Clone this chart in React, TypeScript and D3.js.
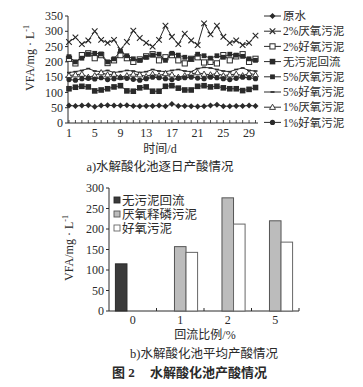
import React from 'react';
import * as d3 from 'd3';

// daily VFA, mg/L (panel a)
const days = [1, 2, 3, 4, 5, 6, 7, 8, 9, 10, 11, 12, 13, 14, 15, 16, 17, 18, 19, 20, 21, 22, 23, 24, 25, 26, 27, 28, 29, 30];
const rawWater = [57, 56, 57, 58, 53, 57, 58, 57, 57, 58, 56, 55, 56, 56, 57, 55, 62, 56, 56, 55, 54, 55, 57, 60, 55, 55, 56, 56, 57, 56];
const anaerobic2 = [265, 280, 258, 270, 300, 272, 262, 272, 240, 265, 302, 278, 262, 250, 272, 318, 282, 258, 292, 270, 255, 326, 290, 318, 282, 262, 270, 255, 262, 286];
const aerobic2 = [210, 195, 222, 228, 212, 222, 196, 205, 222, 212, 200, 208, 218, 225, 205, 215, 222, 205, 195, 210, 215, 198, 200, 195, 222, 205, 218, 225, 200, 210];
const noReturn = [112, 117, 120, 118, 105, 108, 112, 118, 122, 105, 104, 115, 118, 104, 104, 120, 122, 114, 108, 108, 120, 122, 118, 120, 115, 112, 112, 106, 110, 116];
const anaerobic5 = [217, 200, 212, 225, 228, 226, 200, 210, 235, 220, 210, 205, 215, 222, 225, 205, 228, 222, 215, 210, 225, 220, 212, 220, 215, 225, 222, 218, 210, 205];
const aerobic5 = [165, 168, 172, 178, 170, 168, 172, 165, 168, 172, 170, 165, 168, 175, 170, 168, 172, 175, 170, 168, 178, 182, 180, 175, 170, 168, 175, 180, 172, 170];
const anaerobic1 = [155, 158, 160, 150, 155, 165, 158, 160, 150, 155, 160, 158, 152, 160, 155, 162, 158, 150, 155, 160, 165, 160, 158, 162, 155, 158, 160, 155, 162, 158];
const aerobic1 = [142, 140, 145, 146, 144, 148, 142, 145, 148, 146, 143, 140, 145, 150, 148, 145, 142, 146, 148, 150, 147, 145, 150, 148, 145, 142, 146, 150, 148, 145];
const lineNames = ['原水', '2%厌氧污泥', '2%好氧污泥', '无污泥回流', '5%厌氧污泥', '5%好氧污泥', '1%厌氧污泥', '1%好氧污泥'];
const lineTicksY = [0, 50, 100, 150, 200, 250, 300, 350];
const lineTicksX = [1, 5, 9, 13, 17, 21, 25, 29];

// average VFA, mg/L (panel b)
const ratioLabels = ['0', '1', '2', '5'];
const barNames = ['无污泥回流', '厌氧释磷污泥', '好氧污泥'];
const noReturnAvg = [115, null, null, null];
const anaerobicAvg = [null, 157, 276, 220];
const aerobicAvg = [null, 143, 212, 168];
const barTicksY = [0, 50, 100, 150, 200, 250, 300];

const ink = '#2a2a2a';
const font = "'Liberation Serif', 'Noto Sans CJK SC', serif";

type MarkerKind = 'diamond' | 'cross' | 'openSquare' | 'square' | 'smallSquare' | 'dash' | 'triangle' | 'circle';

const lineSeries: { values: number[]; marker: MarkerKind }[] = [
  { values: rawWater, marker: 'diamond' },
  { values: anaerobic2, marker: 'cross' },
  { values: aerobic2, marker: 'openSquare' },
  { values: noReturn, marker: 'square' },
  { values: anaerobic5, marker: 'smallSquare' },
  { values: aerobic5, marker: 'dash' },
  { values: anaerobic1, marker: 'triangle' },
  { values: aerobic1, marker: 'circle' },
];

function Marker({ kind, x, y }: { kind: MarkerKind; x: number; y: number }) {
  switch (kind) {
    case 'diamond':
      return <path d={`M${x},${y - 3}L${x + 3},${y}L${x},${y + 3}L${x - 3},${y}Z`} fill={ink} />;
    case 'cross':
      return <path d={`M${x - 2.8},${y - 2.8}L${x + 2.8},${y + 2.8}M${x - 2.8},${y + 2.8}L${x + 2.8},${y - 2.8}`} stroke={ink} strokeWidth={1.1} />;
    case 'openSquare':
      return <rect x={x - 2.6} y={y - 2.6} width={5.2} height={5.2} fill="#fff" stroke={ink} strokeWidth={1} />;
    case 'square':
      return <rect x={x - 2.8} y={y - 2.8} width={5.6} height={5.6} fill={ink} />;
    case 'smallSquare':
      return <rect x={x - 2.4} y={y - 2.4} width={4.8} height={4.8} fill={ink} />;
    case 'dash':
      return <path d={`M${x - 2},${y}L${x + 2},${y}`} stroke={ink} strokeWidth={1.6} />;
    case 'triangle':
      return <path d={`M${x},${y - 3}L${x + 3},${y + 2.2}L${x - 3},${y + 2.2}Z`} fill="#fff" stroke={ink} strokeWidth={0.9} />;
    case 'circle':
      return <circle cx={x} cy={y} r={2.6} fill={ink} />;
  }
}

function YLabel({ x, y }: { x: number; y: number }) {
  return (
    <text transform={`translate(${x},${y}) rotate(-90)`} textAnchor="middle" fontSize={12} fill={ink}>
      VFA/mg · L<tspan dy={-5} fontSize={8}>-1</tspan>
    </text>
  );
}

function DailyChart() {
  const x = d3.scaleLinear().domain([1, 30]).range([69, 255.5]);
  const y = d3.scaleLinear().domain([0, 350]).range([123, 16]);
  const line = d3.line<number>().x((_, i) => x(days[i])).y((d) => y(d));
  const x0 = 68;
  return (
    <g>
      <line x1={x0} x2={x0} y1={y(350)} y2={y(0)} stroke={ink} />
      <line x1={x0} x2={258} y1={y(0)} y2={y(0)} stroke={ink} />
      {lineTicksY.map((t) => (
        <g key={t}>
          <line x1={x0 - 3} x2={x0} y1={y(t)} y2={y(t)} stroke={ink} />
          <text x={x0 - 5} y={y(t)} dy="0.35em" textAnchor="end" fontSize={12} fill={ink}>{t}</text>
        </g>
      ))}
      {days.map((d) => (
        <line key={d} x1={x(d)} x2={x(d)} y1={y(0)} y2={y(0) - 3} stroke={ink} strokeWidth={0.8} />
      ))}
      {lineTicksX.map((t) => (
        <text key={t} x={x(t)} y={y(0) + 14} textAnchor="middle" fontSize={12} fill={ink}>{t}</text>
      ))}
      {lineSeries.map((s, si) => (
        <g key={si}>
          <path d={line(s.values) || ''} fill="none" stroke={ink} strokeWidth={1} />
          {s.values.map((v, i) => (
            <Marker key={i} kind={s.marker} x={x(days[i])} y={y(v)} />
          ))}
        </g>
      ))}
      <YLabel x={34} y={58} />
      <text x={160} y={153} textAnchor="middle" fontSize={12} fill={ink}>时间/d</text>
      <text x={160} y={171} textAnchor="middle" fontSize={12.5} fill={ink}>a)水解酸化池逐日产酸情况</text>
      {lineNames.map((n, i) => {
        const ly = 16 + i * 15.2;
        return (
          <g key={n}>
            <line x1={264} x2={281} y1={ly} y2={ly} stroke={ink} />
            <Marker kind={lineSeries[i].marker} x={272.5} y={ly} />
            <text x={283} y={ly} dy="0.36em" fontSize={11.5} fill={ink}>{n}</text>
          </g>
        );
      })}
    </g>
  );
}

function AverageChart() {
  const groups = [noReturnAvg, anaerobicAvg, aerobicAvg];
  const fills = ['#3a3a3a', '#bcbcbc', '#ffffff'];
  const strokes = ['#2a2a2a', '#555', '#666'];
  const x = d3.scaleBand().domain(ratioLabels).range([109, 299]).paddingInner(0.27).paddingOuter(0.135);
  const inner = d3.scaleBand().domain(['0', '1', '2']).range([0, x.bandwidth()]);
  const y = d3.scaleLinear().domain([0, 300]).range([311, 188]);
  const x0 = 109;
  const step = x.step();
  return (
    <g>
      <line x1={x0} x2={x0} y1={y(300)} y2={y(0)} stroke={ink} />
      <line x1={x0} x2={299} y1={y(0)} y2={y(0)} stroke={ink} />
      {barTicksY.map((t) => (
        <g key={t}>
          <line x1={x0 - 3} x2={x0} y1={y(t)} y2={y(t)} stroke={ink} />
          <text x={x0 - 5} y={y(t)} dy="0.35em" textAnchor="end" fontSize={12} fill={ink}>{t}</text>
        </g>
      ))}
      {ratioLabels.map((c, i) => (
        <g key={c}>
          <line x1={x0 + step * (i + 1)} x2={x0 + step * (i + 1)} y1={y(0)} y2={y(0) - 3} stroke={ink} />
          <text x={(x(c) || 0) + x.bandwidth() / 2} y={y(0) + 13} textAnchor="middle" fontSize={12} fill={ink}>{c}</text>
        </g>
      ))}
      {groups.map((vals, gi) =>
        vals.map((v, i) =>
          v == null ? null : (
            <rect
              key={`${gi}-${i}`}
              x={(x(ratioLabels[i]) || 0) + (inner(String(gi)) || 0)}
              y={y(v)}
              width={inner.bandwidth()}
              height={y(0) - y(v)}
              fill={fills[gi]}
              stroke={strokes[gi]}
              strokeWidth={1}
            />
          )
        )
      )}
      {barNames.map((n, i) => {
        const ly = 200 + i * 14;
        return (
          <g key={n}>
            <rect x={114} y={ly - 3} width={6} height={6} fill={fills[i]} stroke={strokes[i]} strokeWidth={0.9} />
            <text x={122} y={ly} dy="0.36em" fontSize={12.5} fill={ink}>{n}</text>
          </g>
        );
      })}
      <YLabel x={73} y={248} />
      <text x={205} y={339} textAnchor="middle" fontSize={12} fill={ink}>回流比例/%</text>
      <text x={204} y={358} textAnchor="middle" fontSize={12.5} fill={ink}>b)水解酸化池平均产酸情况</text>
      <text x={112} y={377} fontSize={13} fontWeight="bold" fill={ink}>图 2</text>
      <text x={150} y={377} fontSize={13} fontWeight="bold" fill={ink}>水解酸化池产酸情况</text>
    </g>
  );
}

export default function App() {
  return (
    <svg
      width={363}
      height={387}
      style={{ position: 'absolute', left: 0, top: 0, background: '#fff' }}
      fontFamily={font}
    >
      <DailyChart />
      <AverageChart />
    </svg>
  );
}
